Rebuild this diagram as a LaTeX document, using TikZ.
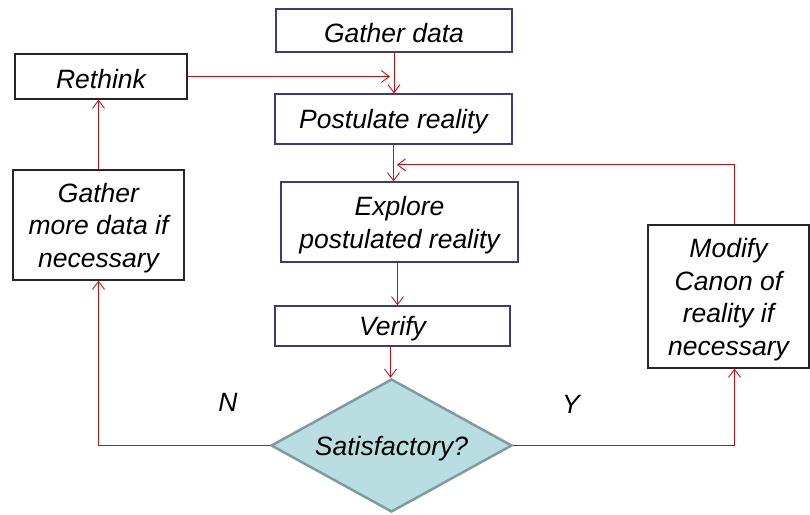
\documentclass[tikz,border=0pt]{standalone}
\usepackage{fontspec}
\setmainfont{Liberation Sans}
\usetikzlibrary{arrows.meta,shapes.geometric,calc}
\definecolor{flowred}{HTML}{CC1010}
\definecolor{boxnavy}{HTML}{3A3A86}
\definecolor{diafill}{HTML}{B8DEE2}
\definecolor{diaedge}{HTML}{7E9C9E}
% a tall invisible strut on the first line sets the text a little lower in its box
\newcommand{\liftstrut}{\rule{0pt}{25pt}}
\tikzset{
  every node/.style={font=\fontsize{26.5}{32.5}\selectfont\itshape, text=black},
  stepbox/.style={draw=boxnavy, line width=1.2pt, rectangle, inner sep=0pt, align=center},
  sidebox/.style={draw=black!85, line width=1.2pt, rectangle, inner sep=0pt, align=center},
  decision/.style={diamond, draw=diaedge, fill=diafill, line width=2.5pt, inner sep=0pt, aspect=1.81},
  arr/.style={draw=flowred, line width=0.9pt, -{Straight Barb[length=8pt,width=12pt,line width=0.9pt]}}
}
\begin{document}
\begin{tikzpicture}[x=1pt,y=-1pt]
\useasboundingbox (0,0) rectangle (810,514);

% main column
\node[stepbox, minimum width=236pt, minimum height=43pt] (gd) at (394,30.5) {\liftstrut Gather data};
\node[stepbox, minimum width=237pt, minimum height=50pt] (pr) at (393.5,119) {\liftstrut Postulate reality};
\node[stepbox, minimum width=237pt, minimum height=80pt] (ex) at (399.5,222) {\liftstrut Explore\\postulated reality};
\node[stepbox, minimum width=235pt, minimum height=40pt] (vf) at (392.5,326) {\liftstrut Verify};
\node[decision, minimum width=241pt, minimum height=133pt] (sat) at (391.5,445.5) {\liftstrut Satisfactory?};

% side boxes
\node[sidebox, minimum width=172pt, minimum height=45pt] (rt) at (101,76.5) {\liftstrut Rethink};
\node[sidebox, minimum width=171pt, minimum height=110pt] (gm) at (98.5,225) {\liftstrut Gather\\more data if\\necessary};
\node[sidebox, minimum width=161pt, minimum height=143pt] (md) at (728.5,296.5) {\liftstrut Modify\\Canon of\\reality if\\necessary};

% branch labels
\node (n) at (228,402) {N};
\node (y) at (571,404) {Y};

% connectors
\draw[arr] (gd.south) -- (gd.south |- pr.north);
\draw[arr] (rt.east) -- ([xshift=-4pt]rt.east -| gd.south);
\draw[arr] (pr.south) -- (pr.south |- ex.north);
\draw[arr] ([xshift=6pt]md.north) |- ($(pr.south)!0.55!(ex.north)$);
\draw[arr] ([xshift=-2pt]ex.south) -- ([xshift=-2pt]ex.south |- vf.north);
\draw[arr] ([xshift=-2pt]vf.south) -- ([xshift=-2pt]vf.south |- sat.north);
\draw[arr] (sat.west) -| (gm.south);
\draw[arr] (sat.east) -| ([xshift=6pt]md.south);
\draw[arr] (gm.north) -- (gm.north |- rt.south);
\end{tikzpicture}
\end{document}
